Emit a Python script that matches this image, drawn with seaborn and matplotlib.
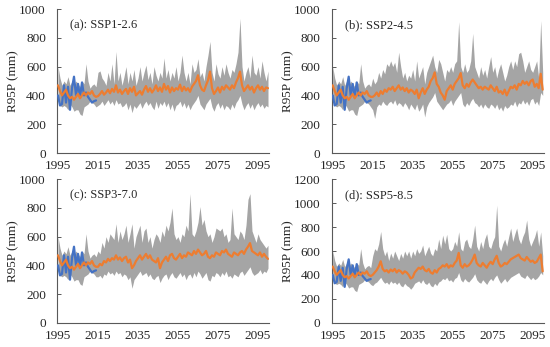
import numpy as np
import pandas as pd
import matplotlib
matplotlib.use("Agg")
import matplotlib.pyplot as plt
import seaborn as sns
from matplotlib.ticker import FixedLocator

sns.set_style("white")
plt.rcParams['font.family'] = ['Liberation Serif', 'DejaVu Serif']

hist_years = list(range(1995, 2015))
fut_years = list(range(2015, 2101))

obs = [400, 330, 340, 470, 350, 460, 300, 450, 530, 400,
       480, 390, 490, 400, 420, 390, 370, 350, 360, 365]
hist_mean = [470, 430, 400, 420, 440, 400, 380, 390, 370, 390,
             410, 380, 400, 420, 400, 420, 410, 430, 400, 390]
hist_hi = [600, 520, 470, 500, 480, 530, 470, 500, 470, 500,
           480, 460, 500, 480, 620, 500, 450, 470, 480, 460]
hist_lo = [400, 330, 320, 330, 320, 300, 340, 320, 290, 300,
           300, 270, 260, 320, 330, 340, 360, 350, 340, 320]

ssp126_mean = [395, 410, 430, 405, 420, 440, 415, 445, 425, 470,
               420, 440, 410, 430, 445, 410, 450, 425, 460, 400,
               415, 430, 405, 440, 465, 425, 450, 420, 440, 470,
               430, 455, 425, 480, 440, 465, 420, 455, 430, 450,
               440, 475, 430, 460, 435, 450, 425, 460, 480, 500,
               540, 470, 440, 430, 470, 505, 565, 450, 410, 430,
               455, 420, 460, 440, 470, 455, 440, 470, 450, 490,
               520, 565, 470, 430, 450, 470, 440, 460, 420, 450,
               470, 440, 460, 430, 455, 450]
ssp126_hi = [560, 570, 520, 500, 470, 560, 500, 620, 480, 705,
             500, 560, 470, 530, 600, 480, 560, 500, 580, 470,
             520, 600, 500, 560, 610, 510, 560, 480, 600, 540,
             500, 560, 520, 660, 520, 580, 500, 560, 520, 600,
             500, 560, 680, 560, 500, 560, 480, 620, 560, 580,
             655, 530, 560, 500, 600, 680, 775, 560, 500, 620,
             550, 520, 600, 540, 620, 560, 520, 580, 560, 620,
             700, 935, 600, 500, 560, 600, 520, 680, 560, 540,
             600, 520, 640, 560, 500, 570]
ssp126_lo = [330, 340, 360, 330, 350, 370, 340, 360, 330, 370,
             340, 350, 320, 330, 350, 300, 340, 280, 330, 310,
             330, 350, 310, 340, 360, 330, 350, 320, 300, 360,
             310, 350, 330, 360, 320, 350, 300, 340, 290, 330,
             340, 360, 320, 350, 310, 340, 300, 330, 350, 370,
             400, 340, 320, 300, 340, 360, 380, 320, 290, 330,
             350, 310, 340, 300, 330, 320, 300, 340, 310, 350,
             370, 400, 340, 300, 330, 350, 310, 340, 300, 330,
             350, 320, 340, 310, 330, 320]

ssp245_mean = [390, 400, 420, 395, 430, 410, 440, 425, 450, 440,
               460, 430, 450, 470, 440, 455, 430, 450, 420, 440,
               430, 410, 440, 380, 420, 450, 410, 440, 460, 500,
               520, 560, 480, 460, 420, 400, 370, 430, 450, 470,
               440, 480, 500, 520, 555, 470, 450, 480, 460, 490,
               510, 490, 470, 450, 460, 440, 460, 450, 440, 470,
               450, 430, 460, 420, 430, 410, 440, 400, 430, 460,
               450, 470, 440, 480, 470, 500, 480, 495, 470, 500,
               510, 460, 480, 450, 550, 440]
ssp245_hi = [520, 480, 500, 560, 520, 580, 550, 620, 600, 640,
             600, 630, 560, 700, 600, 520, 560, 500, 540, 520,
             580, 500, 640, 520, 560, 600, 480, 560, 600, 640,
             680, 600, 560, 650, 620, 560, 500, 580, 560, 600,
             560, 620, 640, 912, 600, 560, 620, 560, 580, 640,
             831, 600, 560, 520, 600, 540, 580, 520, 600, 670,
             560, 600, 520, 580, 620, 560, 500, 540, 600, 640,
             580, 640, 600, 690, 700, 640, 560, 600, 640, 580,
             560, 600, 640, 520, 920, 560]
ssp245_lo = [300, 240, 320, 340, 330, 360, 340, 330, 350, 360,
             340, 370, 330, 350, 340, 320, 350, 330, 300, 340,
             320, 300, 340, 290, 310, 340, 250, 320, 350, 370,
             390, 420, 360, 340, 320, 300, 320, 340, 350, 370,
             330, 360, 380, 400, 420, 340, 320, 350, 330, 360,
             380, 350, 340, 320, 340, 310, 340, 320, 310, 340,
             330, 310, 340, 300, 320, 290, 330, 310, 320, 340,
             330, 360, 320, 350, 340, 370, 340, 360, 330, 370,
             380, 340, 360, 330, 420, 400]

ssp370_mean = [390, 410, 400, 430, 420, 445, 430, 450, 440, 470,
               440, 455, 430, 450, 460, 420, 440, 380, 400, 430,
               450, 470, 440, 460, 480, 450, 470, 440, 430, 420,
               450, 380, 420, 440, 460, 430, 470, 480, 450, 440,
               460, 480, 450, 470, 460, 490, 480, 470, 500, 480,
               510, 490, 470, 480, 500, 460, 450, 470, 460, 490,
               480, 470, 500, 490, 510, 480, 470, 460, 490, 480,
               470, 490, 500, 480, 510, 530, 555, 500, 490, 480,
               470, 490, 460, 480, 460, 445]
ssp370_hi = [500, 480, 560, 520, 600, 560, 620, 600, 580, 690,
             560, 640, 580, 620, 680, 560, 620, 690, 520, 600,
             640, 680, 560, 640, 660, 560, 600, 520, 580, 620,
             600, 560, 640, 600, 680, 640, 700, 800, 620, 580,
             600, 560, 620, 600, 680, 640, 900, 620, 600, 640,
             700, 810, 680, 720, 640, 600, 620, 560, 600, 660,
             650, 640, 660, 600, 620, 560, 580, 800, 620, 600,
             580, 640, 620, 580, 680, 860, 900, 640, 600, 560,
             620, 580, 560, 540, 520, 540]
ssp370_lo = [320, 330, 310, 340, 330, 360, 340, 350, 330, 360,
             340, 350, 320, 340, 330, 300, 320, 240, 300, 320,
             340, 360, 330, 340, 350, 320, 340, 310, 300, 320,
             330, 280, 310, 330, 340, 300, 330, 350, 320, 310,
             330, 350, 320, 340, 300, 330, 340, 310, 350, 320,
             360, 340, 310, 330, 350, 300, 290, 330, 320, 350,
             340, 320, 350, 330, 360, 320, 330, 310, 340, 330,
             320, 350, 360, 330, 350, 370, 390, 350, 330, 340,
             350, 370, 340, 360, 350, 380]

ssp585_mean = [400, 420, 440, 470, 514, 450, 430, 440, 420, 445,
               430, 450, 420, 440, 430, 410, 430, 420, 400, 370,
               380, 420, 440, 460, 450, 470, 440, 430, 450, 420,
               410, 440, 420, 450, 460, 480, 470, 490, 460, 480,
               470, 500, 520, 584, 480, 460, 490, 470, 480, 500,
               530, 570, 500, 480, 470, 500, 480, 460, 490, 510,
               490, 530, 560, 500, 470, 480, 500, 490, 510, 530,
               540, 550, 560, 570, 540, 530, 520, 550, 530, 510,
               520, 500, 510, 540, 570, 430]
ssp585_hi = [560, 620, 600, 660, 764, 620, 560, 600, 520, 583,
             540, 600, 560, 520, 580, 540, 600, 560, 600, 540,
             600, 560, 620, 580, 600, 650, 560, 600, 640, 580,
             560, 620, 600, 700, 620, 733, 660, 740, 620, 600,
             620, 680, 640, 761, 620, 600, 680, 700, 640, 620,
             700, 817, 640, 600, 680, 620, 700, 745, 640, 620,
             680, 720, 983, 640, 600, 660, 700, 640, 720, 792,
             680, 740, 792, 700, 660, 720, 760, 859, 700, 640,
             680, 720, 780, 640, 760, 560]
ssp585_lo = [310, 330, 340, 360, 380, 350, 330, 340, 320, 350,
             330, 340, 320, 340, 310, 300, 330, 310, 300, 280,
             300, 330, 340, 350, 330, 360, 330, 320, 340, 310,
             300, 330, 310, 340, 350, 370, 360, 380, 350, 360,
             340, 370, 380, 420, 360, 340, 370, 350, 340, 360,
             380, 410, 360, 340, 330, 360, 340, 320, 350, 370,
             350, 380, 400, 360, 330, 350, 370, 340, 360, 380,
             390, 400, 410, 420, 390, 380, 370, 400, 380, 360,
             380, 360, 370, 390, 420, 400]

panels = [
    ("(a): SSP1-2.6", ssp126_mean, ssp126_lo, ssp126_hi, 1000),
    ("(b): SSP2-4.5", ssp245_mean, ssp245_lo, ssp245_hi, 1000),
    ("(c): SSP3-7.0", ssp370_mean, ssp370_lo, ssp370_hi, 1000),
    ("(d): SSP5-8.5", ssp585_mean, ssp585_lo, ssp585_hi, 1200),
]

W, H = 550, 347
fig = plt.figure(figsize=(W / 100, H / 100), dpi=100)
boxes = [
    (57, 9, 212, 144),
    (331.7, 9, 212, 144),
    (57, 179.3, 212, 143.4),
    (331.7, 179.3, 212, 143.4),
]

GRAY = "#a5a5a5"
ORANGE = "#ed7d31"
BLUE = "#4472c4"
AXC = "#595959"

all_years = hist_years + fut_years
for (title, mean, lo, hi, ymax), (x0, y0, w, h) in zip(panels, boxes):
    ax = fig.add_axes([x0 / W, 1 - (y0 + h) / H, w / W, h / H])
    full_mean = hist_mean + mean
    full_lo = hist_lo + lo
    full_hi = hist_hi + hi
    ax.fill_between(all_years, full_lo, full_hi, color=GRAY, lw=0, zorder=1)
    df_m = pd.DataFrame({"year": all_years, "val": full_mean})
    df_o = pd.DataFrame({"year": hist_years, "val": obs})
    sns.lineplot(data=df_o, x="year", y="val", ax=ax, color=BLUE, lw=1.6, zorder=3)
    sns.lineplot(data=df_m, x="year", y="val", ax=ax, color=ORANGE, lw=1.6, zorder=4)
    ax.set_xlim(1994.5, 2100.5)
    ax.set_ylim(0, ymax)
    ax.set_yticks(np.arange(0, ymax + 1, 200))
    ax.set_xticks(list(range(1995, 2100, 20)))
    ax.xaxis.set_minor_locator(FixedLocator([2004.5 + 10 * k for k in range(10)]))
    ax.tick_params(axis="x", which="major", length=0, pad=5, labelsize=9.5)
    ax.tick_params(axis="x", which="minor", direction="in", length=3, width=0.7, color=AXC)
    ax.tick_params(axis="y", direction="in", length=3, width=0.7, color=AXC, pad=8, labelsize=9.5, left=True)
    for s in ["top", "right"]:
        ax.spines[s].set_visible(False)
    for s in ["left", "bottom"]:
        ax.spines[s].set_color(AXC)
        ax.spines[s].set_linewidth(0.8)
    ax.set_xlabel("")
    ax.set_ylabel("R95P (mm)", fontsize=9.5, labelpad=0)
    ax.grid(False)
    ax.text(0.061, 0.89, title, transform=ax.transAxes, fontsize=9, va="center", ha="left")

fig.savefig("out.png", dpi=100)
